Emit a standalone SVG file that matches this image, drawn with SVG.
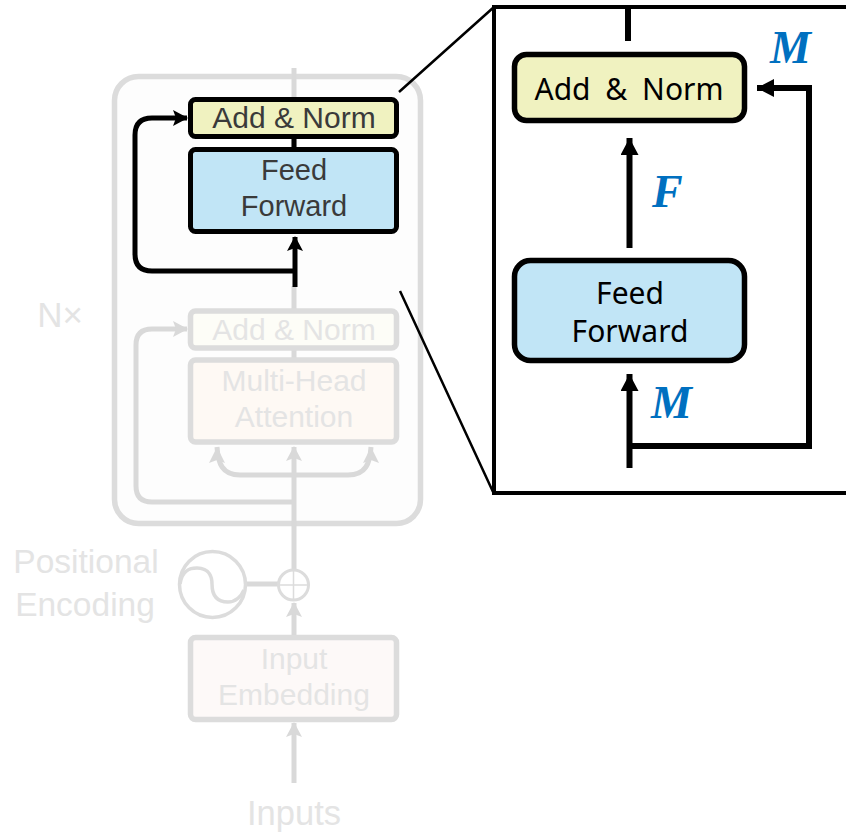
<svg xmlns="http://www.w3.org/2000/svg" width="846" height="834" viewBox="0 0 846 834">
<defs>
<marker id="ag" markerUnits="userSpaceOnUse" markerWidth="16" markerHeight="18" refX="14" refY="8" orient="auto"><path d="M0 0L15 8L0 16L3 8Z" fill="#d9d9d9"/></marker>
<marker id="ab" markerUnits="userSpaceOnUse" markerWidth="16" markerHeight="18" refX="14" refY="8" orient="auto"><path d="M0 0L15 8L0 16L3 8Z" fill="#000"/></marker>
<marker id="ar" markerUnits="userSpaceOnUse" markerWidth="18" markerHeight="20" refX="17" refY="9" orient="auto"><path d="M0 0L17 9L0 18Z" fill="#000"/></marker>
</defs>
<style>
.t{font-family:"Liberation Sans",Arial,sans-serif;font-size:30px;text-anchor:middle;fill:#3a3a3a}
.g{fill:#e4e4e4}
.gl{fill:none;stroke:#d9d9d9;stroke-width:5}
.bl{fill:none;stroke:#000;stroke-width:5}
.br{fill:none;stroke:#000;stroke-width:6}
.r{font-family:"Noto Sans","Open Sans",sans-serif;font-size:30px;text-anchor:middle;fill:#000}
.m{font-family:"Liberation Serif",serif;font-weight:bold;font-style:italic;font-size:46px;fill:#0070c0}
</style>
<rect width="846" height="834" fill="#fff"/>
<g id="encoder-frame"><rect x="114.5" y="76.5" width="306" height="447" rx="24" fill="#fdfdfd" stroke="#dcdcdc" stroke-width="5.5"/></g>
<g id="connectors">
<path class="gl" d="M294 68V97M294 139V147"/>
<path class="gl" d="M294 286V310M294 350V360"/>
<path class="gl" d="M294 783V723" marker-end="url(#ag)"/>
<path class="gl" d="M294 636V603" marker-end="url(#ag)"/>
<path class="gl" d="M294 570V447" marker-end="url(#ag)"/>
<path class="gl" d="M294 502H152Q136 502 136 486V345Q136 329 152 329H187" marker-end="url(#ag)"/>
<path class="gl" d="M217 447C218 463 222 475 240 475H348C366 475 370 463 371 447"/>
<path d="M217 447L209 463L217 460L225 463Z M371 447L363 463L371 460L379 463Z" fill="#d9d9d9"/>
<path class="gl" d="M244 584H279"/>
<path class="bl" d="M294 139V147"/>
<path class="bl" d="M295 287V237" marker-end="url(#ab)"/>
<path class="bl" d="M295 271H152Q135 271 135 254V135Q135 118 152 118H187" marker-end="url(#ab)"/>
</g>
<g id="add-norm-1"><rect x="190.5" y="99.500" width="206" height="37" rx="5" fill="#f0f2c0" stroke="#000" stroke-width="5"/><text class="t" x="294" y="128">Add &amp; Norm</text></g>
<g id="feed-forward-1"><rect x="190.500" y="149.500" width="206" height="82" rx="5" fill="#c1e5f6" stroke="#000" stroke-width="5"/><text class="t" x="294" y="180" style="font-size:29px">Feed</text><text class="t" x="294" y="216" style="font-size:29px">Forward</text></g>
<g id="add-norm-2"><rect x="190.500" y="311" width="206" height="37" rx="5" fill="#fdfdf7" stroke="#dcdcdc" stroke-width="5.500"/><text class="t g" x="294" y="340">Add &amp; Norm</text></g>
<g id="attention"><rect x="190.500" y="360" width="206" height="82" rx="5" fill="#fef9f4" stroke="#dcdcdc" stroke-width="5.500"/><text class="t g" x="294" y="391">Multi-Head</text><text class="t g" x="294" y="427">Attention</text></g>
<g id="nx"><text class="t g" x="60" y="327" style="font-size:35px">N×</text></g>
<g id="positional"><text class="t g" x="86" y="573" style="font-size:33.500px">Positional</text><text class="t g" x="85" y="616" style="font-size:33.500px">Encoding</text>
<circle cx="212.500" cy="584.500" r="33" fill="none" stroke="#dcdcdc" stroke-width="3.500"/>
<path d="M180 584C182 570 190 568 197 568C210 568 212 578 212 584C212 592 214 602 228 602C235 602 241 597 244 590" fill="none" stroke="#dcdcdc" stroke-width="3.500"/></g>
<g id="plus"><circle cx="293.500" cy="585" r="15" fill="#fff" stroke="#dcdcdc" stroke-width="3"/><path d="M279 585H308M293.500 570V600" stroke="#dcdcdc" stroke-width="1.500"/></g>
<g id="input-embedding"><rect x="190.500" y="637.500" width="206" height="82" rx="5" fill="#fdf9f8" stroke="#dcdcdc" stroke-width="5.500"/><text class="t g" x="294" y="669">Input</text><text class="t g" x="294" y="705">Embedding</text></g>
<g id="inputs"><text class="t g" x="294" y="825" style="font-size:34.500px">Inputs</text></g>
<g id="zoom-frame">
<path d="M399 92L494 7M400 291L494 494" fill="none" stroke="#000" stroke-width="2.500"/>
<path d="M846 7H494V493H846" fill="#fff" stroke="#000" stroke-width="4"/>
</g>
<g id="zoom-connectors">
<path class="br" d="M628 8V41"/>
<path class="br" d="M629.500 248V138" marker-end="url(#ar)"/>
<path class="br" d="M629.500 468V374" marker-end="url(#ar)"/>
<path class="br" d="M630 446H809V88H757" marker-end="url(#ar)"/>
</g>
<g id="zoom-add-norm"><rect x="514.500" y="54.500" width="230" height="66" rx="12" fill="#f0f2c0" stroke="#000" stroke-width="5.500"/><text class="r" x="629" y="100" style="word-spacing:7px">Add &amp; Norm</text></g>
<g id="zoom-feed-forward"><rect x="514.500" y="260.500" width="230" height="100" rx="16" fill="#c1e5f6" stroke="#000" stroke-width="5.500"/><text class="r" x="630" y="304">Feed</text><text class="r" x="630" y="342">Forward</text></g>
<g id="labels"><text class="m" x="770" y="63">M</text><text class="m" x="652" y="207">F</text><text class="m" x="651" y="418">M</text></g>
</svg>
